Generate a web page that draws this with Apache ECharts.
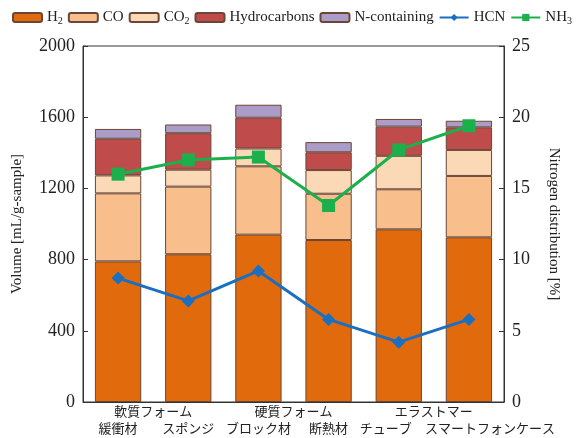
<!DOCTYPE html>
<html>
<head>
<meta charset="utf-8">
<script src="https://cdn.jsdelivr.net/npm/echarts@6/dist/echarts.min.js"></script>
<style>
  html, body { margin: 0; padding: 0; background: #fff; }
  #chart { width: 577px; height: 438px; }
</style>
</head>
<body>
<div id="chart"></div>
<script>
// Samples (bottom label line) and their material groups (top label line)
const samples = ['緩衝材', 'スポンジ', 'ブロック材', '断熱材', 'チューブ', 'スマートフォンケース'];
const groups = ['軟質フォーム', '硬質フォーム', 'エラストマー'];

// Gas volumes [mL/g-sample], stacked
const h2 = [790, 830, 940, 910, 970, 925];
const co = [382, 380, 384, 260, 225, 345];
const co2 = [101, 95, 100, 133, 188, 146];
const hydrocarbons = [206, 205, 173, 100, 164, 127];
const nContaining = [55, 49, 73, 57, 43, 37];

// Nitrogen distribution [%]
const hcn = [8.7, 7.1, 9.2, 5.8, 4.2, 5.8];
const nh3 = [16.0, 17.0, 17.2, 13.8, 17.7, 19.4];

const volumeTicks = { min: 0, max: 2000, interval: 400 };
const nitrogenTicks = { min: 0, max: 25, interval: 5 };

const serif = '"Liberation Serif", "DejaVu Serif", serif';
const jp = '"Noto Sans CJK JP", sans-serif';
const ink = '#222';
const edge = '#6a4636';

function barSeries(name, data, color) {
  return {
    name, type: 'bar', stack: 'gas', data,
    barCategoryGap: '34%',
    itemStyle: { color, borderColor: edge, borderWidth: 1 }
  };
}

const legendNames = {
  'H2': '{n|H}{s|2}',
  'CO2': '{n|CO}{s|2}',
  'NH3': '{n|NH}{s|3}'
};

// Long bottom labels are nudged sideways so neighbours do not collide
const sampleLabels = samples.map((v, i) => {
  if (i === 4) return { value: v, textStyle: { padding: [0, 26, 0, 0] } };
  if (i === 5) return { value: v, textStyle: { padding: [0, 0, 0, 42] } };
  return v;
});

const chart = echarts.init(document.getElementById('chart'), null, { renderer: 'canvas' });
chart.setOption({
  animation: false,
  backgroundColor: '#fff',
  textStyle: { fontFamily: serif, color: ink },
  legend: {
    top: 10, left: 12, width: 577, padding: 0,
    itemWidth: 29, itemHeight: 9, itemGap: 5,
    textStyle: {
      fontFamily: serif, fontSize: 15, color: ink,
      rich: {
        n: { fontFamily: serif, fontSize: 15, color: ink },
        s: { fontFamily: serif, fontSize: 10, color: ink, padding: [7, 0, 0, 0] }
      }
    },
    formatter: name => legendNames[name] || ('{n|' + name + '}'),
    data: ['H2', 'CO', 'CO2', 'Hydrocarbons', 'N-containing', 'HCN', 'NH3']
  },
  grid: {
    left: 83, right: 73, top: 46, bottom: 36,
    show: true, borderColor: '#333', borderWidth: 1
  },
  xAxis: [
    {
      type: 'category', data: sampleLabels, position: 'bottom',
      axisLine: { lineStyle: { color: '#333', width: 1 } },
      axisTick: { inside: true, length: 5, lineStyle: { color: '#333' } },
      axisLabel: { interval: 0, margin: 20, fontFamily: jp, fontSize: 13, color: ink }
    },
    {
      type: 'category', data: groups, position: 'bottom', gridIndex: 0,
      axisLine: { show: false }, axisTick: { show: false },
      axisLabel: { interval: 0, margin: 3, fontFamily: jp, fontSize: 13, color: ink }
    }
  ],
  yAxis: [
    {
      type: 'value', ...volumeTicks,
      name: 'Volume [mL/g-sample]', nameLocation: 'middle', nameGap: 58, nameRotate: 90,
      nameTextStyle: { fontFamily: serif, fontSize: 15, color: ink },
      axisLine: { show: true, lineStyle: { color: '#333' } },
      axisTick: { show: true, inside: true, length: 5, lineStyle: { color: '#333' } },
      axisLabel: { fontFamily: serif, fontSize: 18, color: ink, margin: 8, formatter: v => String(v) },
      splitLine: { show: false }
    },
    {
      type: 'value', ...nitrogenTicks, position: 'right',
      name: 'Nitrogen distribution [%]', nameLocation: 'middle', nameGap: 42, nameRotate: -90,
      nameTextStyle: { fontFamily: serif, fontSize: 15, color: ink },
      axisLine: { show: true, lineStyle: { color: '#333' } },
      axisTick: { show: true, inside: true, length: 5, lineStyle: { color: '#333' } },
      axisLabel: { fontFamily: serif, fontSize: 18, color: ink, margin: 8, formatter: v => String(v) },
      splitLine: { show: false }
    }
  ],
  series: [
    barSeries('H2', h2, '#e06a0c'),
    barSeries('CO', co, '#f8bf8d'),
    barSeries('CO2', co2, '#fbd8b6'),
    barSeries('Hydrocarbons', hydrocarbons, '#bf4c4b'),
    barSeries('N-containing', nContaining, '#ab9cc8'),
    {
      name: 'HCN', type: 'line', yAxisIndex: 1, data: hcn,
      symbol: 'diamond', symbolSize: 13,
      lineStyle: { color: '#1a6fc0', width: 3 },
      itemStyle: { color: '#1a6fc0' }
    },
    {
      name: 'NH3', type: 'line', yAxisIndex: 1, data: nh3,
      symbol: 'rect', symbolSize: 13,
      lineStyle: { color: '#1cb04c', width: 3 },
      itemStyle: { color: '#1cb04c' }
    }
  ]
});
</script>
</body>
</html>
